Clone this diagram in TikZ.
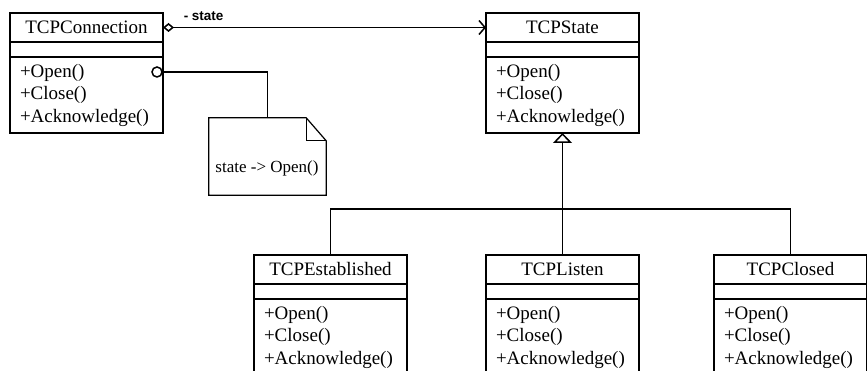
\documentclass[tikz,border=0pt]{standalone}
\usepackage{fontspec}
\setmainfont{Liberation Serif}
\setsansfont{Liberation Sans}
\usetikzlibrary{arrows.meta,positioning}
\tikzset{
  cname/.style={draw, line width=1.6pt, outer sep=0pt, inner sep=0pt, minimum width=153pt, minimum height=29pt},
  cattr/.style={draw, line width=1.6pt, outer sep=0pt, inner sep=0pt, minimum width=153pt, minimum height=15pt},
  cops/.style={draw, line width=1.6pt, outer sep=0pt, inner xsep=10pt, inner ysep=0pt, text width=133pt, minimum height=76pt, align=left},
  link/.style={line width=1.5pt},
  >=Stealth
}

\begin{document}
\begin{tikzpicture}[x=1pt, y=-1pt, every node/.style={font=\fontsize{19}{22.5}\selectfont}]
  \useasboundingbox (0,0) rectangle (867,371);
  % context
  \node[cname] (conn) at (86.5,27.5) {TCPConnection};
  \node[cattr, below=0pt of conn] (conn-attr) {};
  \node[cops, below=0pt of conn-attr] (conn-ops) {+Open()\\+Close()\\+Acknowledge()};
  % abstract state
  \node[cname] (state) at (562.5,27.5) {TCPState};
  \node[cattr, below=0pt of state] (state-attr) {};
  \node[cops, below=0pt of state-attr] (state-ops) {+Open()\\+Close()\\+Acknowledge()};
  % concrete states
  \node[cname] (est) at (330.5,269.5) {TCPEstablished};
  \node[cattr, below=0pt of est] (est-attr) {};
  \node[cops, below=0pt of est-attr] (est-ops) {+Open()\\+Close()\\+Acknowledge()};
  \node[cname] (listen) at (562.5,269.5) {TCPListen};
  \node[cattr, below=0pt of listen] (listen-attr) {};
  \node[cops, below=0pt of listen-attr] (listen-ops) {+Open()\\+Close()\\+Acknowledge()};
  \node[cname] (closed) at (790.5,269.5) {TCPClosed};
  \node[cattr, below=0pt of closed] (closed-attr) {};
  \node[cops, below=0pt of closed-attr] (closed-ops) {+Open()\\+Close()\\+Acknowledge()};
  % note
  \node[minimum width=117pt, minimum height=77pt, inner sep=0pt] (note) at (267.5,156.5) {};
  \draw[link, line width=1.2pt] (note.south west) -- (note.north west) -- ([xshift=-20pt]note.north east)
    -- ([yshift=-23pt]note.north east) -- (note.south east) -- cycle;
  \draw[link, line width=1.2pt] ([xshift=-20pt]note.north east) |- ([yshift=-23pt]note.north east);
  \node[font=\fontsize{17}{20}\selectfont] (note-text) at (267,168) {state -> Open()};
  \node[circle, draw, link, fill=white, minimum size=10pt, inner sep=0pt] (dot) at (157,72) {};
  \draw[link] (dot.east) -| (note.north);
  % state reference
  \draw[link, {Diamond[open,length=11pt,width=9pt]}-{Straight Barb[length=6pt,width=14pt]}]
    (conn.east) -- (state.west)
    node[pos=0, anchor=base west, inner sep=0pt, xshift=20pt, yshift=7pt,
      font=\sffamily\bfseries\fontsize{13.5}{16}\selectfont] (role) {- state};
  % inheritance
  \coordinate (fork) at (562.5,209);
  \draw[link, -{Triangle[open,length=10pt,width=19pt]}] (fork) -- (state-ops.south);
  \draw[link] (est.north) -- (est.north |- fork) -| (closed.north);
  \draw[link] (listen.north) -- (fork);
\end{tikzpicture}
\end{document}
